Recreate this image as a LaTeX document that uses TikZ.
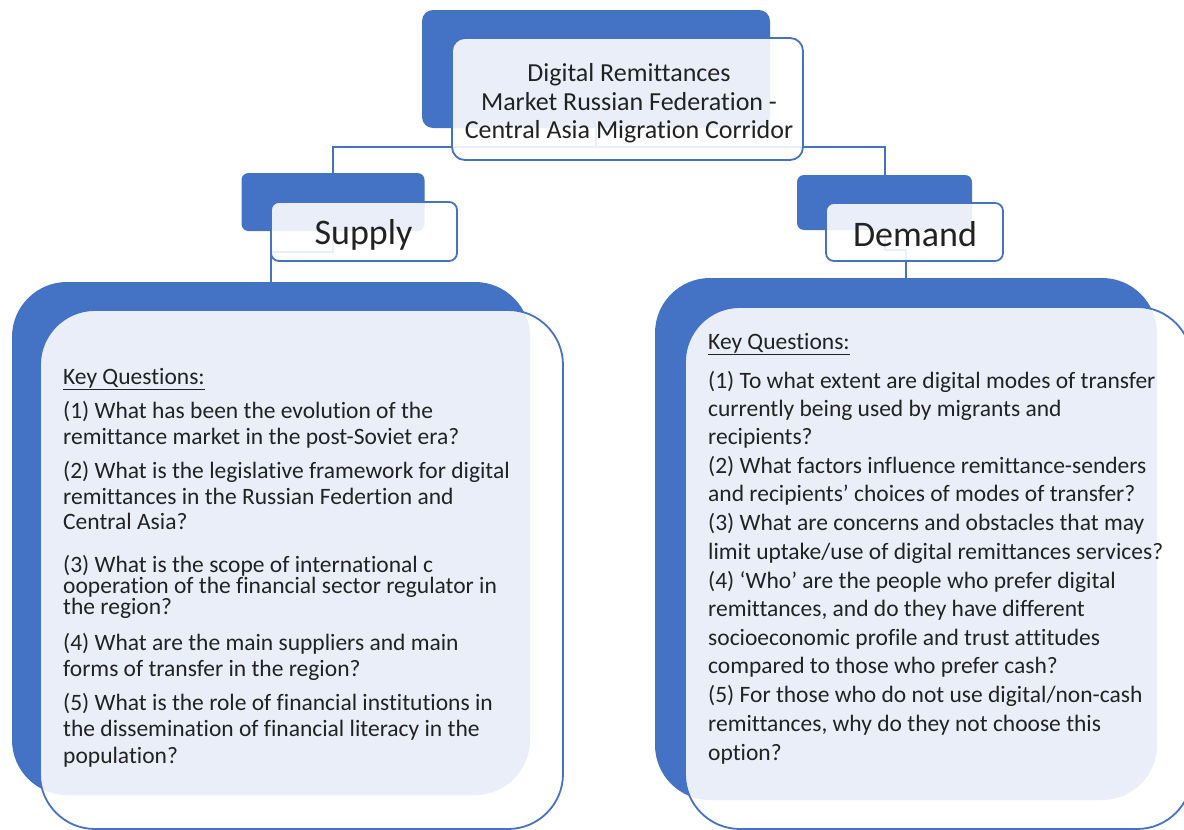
\documentclass[tikz,border=0pt]{standalone}
\usepackage{fontspec}
\setmainfont[Ligatures={NoCommon}]{Carlito}
\definecolor{accent}{HTML}{4472C4}
\definecolor{ink}{HTML}{222222}
\begin{document}
\begin{tikzpicture}[x=1pt,y=-1pt,
  backbox/.style={fill=accent, draw=none, inner sep=0pt, rounded corners=#1},
  backbox/.default=10pt,
  frontbox/.style={fill=white, fill opacity=0.885, draw=accent,
    line width=1.8pt, inner sep=0pt, rounded corners=#1},
  frontbox/.default=12pt,
  link/.style={draw=accent, line width=2pt},
  headline/.style={anchor=base, inner sep=0pt, text=ink, font=\fontsize{36}{40}\selectfont},
  qline/.style={anchor=mid west, inner sep=0pt, text=ink, font=\fontsize{23.5}{27}\selectfont},
  titleline/.style={anchor=mid, inner sep=0pt, text=ink, font=\fontsize{26}{29}\selectfont},
]
\useasboundingbox (0,0) rectangle (1184,830);

% invisible anchors for the elbow connectors
\coordinate (hub) at (596,147);
\coordinate (sjoin) at (333,252);
\coordinate (djoin) at (884.5,250);

% background (accent) boxes
\node[backbox=11pt, minimum width=348pt, minimum height=118pt] (topback) at (596,69) {};
\node[backbox=7pt, minimum width=183pt, minimum height=58pt] (supback) at (333,202) {};
\node[backbox=7pt, minimum width=175pt, minimum height=55pt] (demback) at (884.5,202.5) {};
\node[backbox=55pt, minimum width=518pt, minimum height=513pt] (supbigback) at (271,538.5) {};
\node[backbox=55pt, minimum width=502pt, minimum height=522pt] (dembigback) at (906,539) {};

% connectors
\draw[link] (topback.south) -- (hub);
\draw[link] (hub) -| (supback.north);
\draw[link] (hub) -| (demback.north);
\draw[link] (supback.south) -- (sjoin) -| (supbigback.north);
\draw[link] (demback.south) -- (djoin) -| (dembigback.north);

% foreground boxes
\node[frontbox=13pt, minimum width=351pt, minimum height=122pt] (topfront) at (627.5,99) {};
\node[frontbox=8pt, minimum width=186pt, minimum height=59pt] (supfront) at (364,231.5) {};
\node[frontbox=8pt, minimum width=177pt, minimum height=58pt] (demfront) at (914.5,232) {};
\node[frontbox=55pt, minimum width=523pt, minimum height=519pt] (supbigfront) at (301.5,569.5) {};
\node[frontbox=55pt, minimum width=507pt, minimum height=522pt] (dembigfront) at (938.5,568) {};

% headings
\node[headline] (suplabel) at (363.5,244) {Supply};
\node[headline] (demlabel) at (915,246) {Demand};

% title
\node[titleline] (t1) at (629,79) {Digital Remittances};
\node[titleline] (t2) at (629,108) {Market Russian Federation -};
\node[titleline] (t3) at (629,136) {Central Asia Migration Corridor};

% supply questions
\foreach \yy/\txt [count=\k] in {
  382/{\underline{Key Questions:}},
  416/{(1) What has been the evolution of the},
  442/{remittance market in the post-Soviet era?},
  476/{(2) What is the legislative framework for digital},
  502/{remittances in the Russian Federtion and},
  527/{Central Asia?},
  570/{(3) What is the scope of international c},
  591/{ooperation of the financial sector regulator in},
  612/{the region?},
  648/{(4) What are the main suppliers and main},
  674/{forms of transfer in the region?},
  708/{(5) What is the role of financial institutions in},
  734/{the dissemination of financial literacy in the},
  761/{population?}}
  \node[qline] (sq\k) at (63,\yy) {\txt};

% demand questions
\foreach \yy/\txt [count=\k] in {
  347/{\underline{Key Questions:}},
  386/{(1) To what extent are digital modes of transfer},
  414/{currently being used by migrants and},
  442/{recipients?},
  471/{(2) What factors influence remittance-senders},
  499/{and recipients’ choices of modes of transfer?},
  528/{(3) What are concerns and obstacles that may},
  557/{limit uptake/use of digital remittances services?},
  586/{(4) ‘Who’ are the people who prefer digital},
  614/{remittances, and do they have different},
  643/{socioeconomic profile and trust attitudes},
  671/{compared to those who prefer cash?},
  700/{(5) For those who do not use digital/non-cash},
  729/{remittances, why do they not choose this},
  758/{option?}}
  \node[qline] (dq\k) at (708,\yy) {\txt};
\end{tikzpicture}
\end{document}
